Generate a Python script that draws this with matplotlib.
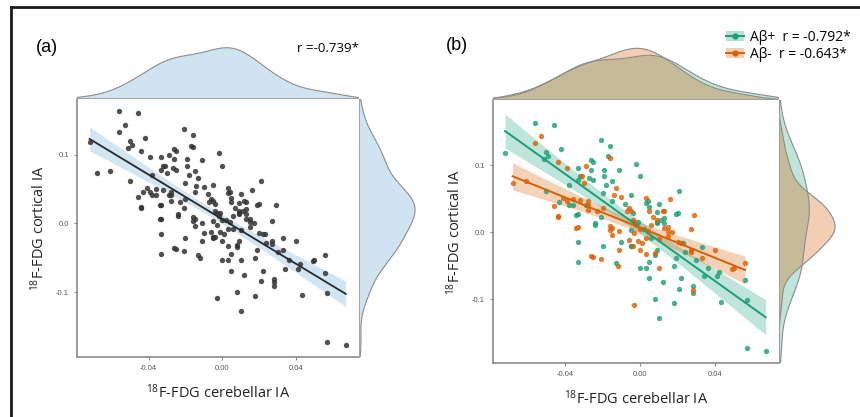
import matplotlib
matplotlib.use("Agg")
import matplotlib.pyplot as plt
from matplotlib.lines import Line2D
from matplotlib.patches import Patch
from matplotlib.legend_handler import HandlerTuple
import numpy as np

plt.rcParams['font.family'] = ['Open Sans', 'DejaVu Sans']
plt.rcParams['mathtext.fontset'] = 'custom'
plt.rcParams['mathtext.rm'] = 'Open Sans'

# cerebellar IA (x) / cortical IA (y)
pos_x = [-0.056, -0.046, -0.072, -0.042, -0.050, -0.049, -0.051, -0.021, -0.016, -0.017,
         -0.026, -0.025, -0.002, 0.000, -0.033, -0.026, -0.019, -0.019, -0.025, -0.027,
         -0.032, -0.018, -0.015, -0.011, 0.021, -0.020, -0.005, 0.004, 0.010, -0.015,
         -0.008, 0.003, 0.005, 0.019, 0.009, 0.013, -0.024, -0.021, -0.001, -0.004,
         0.009, 0.013, -0.038, -0.033, -0.050, -0.043, -0.038, -0.036, -0.033, -0.029,
         -0.034, -0.033, -0.033, -0.024, -0.020, -0.013, -0.010, -0.005, 0.000, 0.003,
         -0.005, 0.005, 0.009, 0.008, 0.010, 0.012, 0.009, 0.011, 0.018, 0.022,
         0.021, 0.028, 0.028, 0.030, 0.019, 0.023, 0.033, 0.036, 0.034, 0.043,
         0.041, 0.042, 0.056, 0.057, 0.057, 0.067, 0.020, 0.024, 0.005, 0.008,
         0.018, -0.005, 0.002, 0.006]
pos_y = [0.163, 0.160, 0.118, 0.124, 0.120, 0.114, 0.109, 0.137, 0.128, 0.113,
         0.108, 0.105, 0.102, 0.084, 0.096, 0.093, 0.093, 0.084, 0.078, 0.080,
         0.083, 0.071, 0.076, 0.092, 0.062, 0.058, 0.056, 0.046, 0.042, 0.046,
         0.042, 0.044, 0.037, 0.027, 0.030, 0.021, 0.013, 0.023, 0.015, 0.028,
         0.015, 0.013, 0.070, 0.077, 0.062, 0.045, 0.041, 0.041, 0.027, 0.041,
         0.026, -0.015, -0.044, 0.011, -0.021, -0.046, -0.014, 0.003, -0.054, -0.054,
         -0.021, -0.069, -0.026, -0.100, -0.128, -0.075, 0.013, 0.018, -0.106, -0.069,
         -0.084, -0.081, -0.091, -0.041, -0.039, -0.016, -0.022, -0.054, -0.066, -0.104,
         -0.066, -0.059, -0.072, -0.101, -0.173, -0.177, 0.028, -0.029, -0.044, -0.034,
         -0.051, -0.020, 0.005, -0.008]

neg_x = [-0.053, -0.056, -0.016, -0.044, -0.039, -0.029, -0.031, -0.068, -0.061, -0.030,
         -0.010, 0.016, -0.006, -0.032, -0.028, -0.046, -0.041, -0.044, -0.033, -0.028,
         -0.036, -0.013, -0.014, 0.003, 0.007, 0.012, -0.005, 0.015, 0.004, -0.016,
         -0.028, -0.044, -0.039, -0.034, -0.023, -0.020, -0.016, -0.015, -0.011, -0.015,
         -0.011, -0.012, -0.025, -0.021, -0.007, -0.004, -0.002, 0.000, -0.003, 0.003,
         -0.001, 0.001, -0.004, -0.006, 0.000, 0.003, 0.005, 0.009, 0.013, 0.015,
         0.015, 0.017, 0.013, 0.010, -0.003, 0.029, 0.027, 0.020, 0.027, 0.033,
         0.040, 0.050, 0.056, 0.028, 0.049, 0.027, 0.022, 0.008, -0.026, -0.003,
         0.006, 0.010]
neg_y = [0.143, 0.133, 0.111, 0.105, 0.096, 0.099, 0.084, 0.073, 0.076, 0.073,
         0.053, 0.049, 0.036, 0.048, 0.046, 0.039, 0.051, 0.024, 0.007, 0.033,
         0.050, 0.066, 0.055, 0.051, 0.023, 0.032, 0.032, 0.002, 0.002, 0.003,
         0.041, 0.023, 0.046, 0.006, 0.031, 0.036, 0.009, 0.006, 0.001, -0.004,
         -0.026, -0.051, -0.037, -0.040, 0.031, 0.018, 0.010, 0.005, -0.002, -0.008,
         -0.013, -0.016, -0.020, -0.012, -0.026, -0.033, 0.031, 0.018, 0.006, 0.007,
         -0.005, 0.000, 0.031, -0.054, -0.109, 0.026, 0.004, -0.014, -0.026, -0.039,
         -0.026, -0.054, -0.046, -0.086, -0.055, -0.030, -0.016, -0.031, -0.036, 0.015,
         0.010, -0.010]

r_all = "r =-0.739*"
labels_b = ["A\u03b2+  r = -0.792*", "A\u03b2-  r = -0.643*"]

GREEN = '#1b9e77'
ORANGE = '#d95f02'
BLUE = '#a6cde6'
XLAB = r'$\mathregular{^{18}}$F-FDG cerebellar IA'
YLAB = r'$\mathregular{^{18}}$F-FDG cortical IA'


def kde(v, grid, adjust=1.15):
    v = np.asarray(v)
    iqr = np.subtract(*np.percentile(v, [75, 25]))
    bw = adjust * 0.9 * min(v.std(ddof=1), iqr / 1.34) * len(v) ** -0.2
    z = (grid[:, None] - v[None, :]) / bw
    return np.exp(-0.5 * z ** 2).sum(axis=1) / (len(v) * bw * np.sqrt(2 * np.pi))


def fit_band(ax, x, y, color, fill, alpha, lw=1.4):
    x = np.asarray(x); y = np.asarray(y)
    b, a = np.polyfit(x, y, 1)
    xs = np.linspace(x.min(), x.max(), 100)
    n = len(x)
    res = y - (a + b * x)
    s = np.sqrt((res ** 2).sum() / (n - 2))
    se = s * np.sqrt(1 / n + (xs - x.mean()) ** 2 / ((x - x.mean()) ** 2).sum())
    yh = a + b * xs
    ax.fill_between(xs, yh - 1.97 * se, yh + 1.97 * se, color=fill, alpha=alpha, lw=0, zorder=2)
    ax.plot(xs, yh, color=color, lw=lw, zorder=4)


def style_main(ax, xlim, ylim):
    ax.set_xlim(*xlim)
    ax.set_ylim(*ylim)
    ax.set_xticks([-0.04, 0.0, 0.04])
    ax.set_xticklabels(['-0.04', '0.00', '0.04'])
    ax.set_yticks([-0.1, 0.0, 0.1])
    ax.set_yticklabels(['-0.1', '0.0', '0.1'])
    for s in ['top', 'right']:
        ax.spines[s].set_visible(False)
    for s in ['left', 'bottom']:
        ax.spines[s].set_color('#8a8a8a')
        ax.spines[s].set_linewidth(1.2)
    ax.tick_params(colors='#8a8a8a', labelcolor='#555555', labelsize=5.5, length=2, width=0.8)
    for t in ax.get_xticklabels() + ax.get_yticklabels():
        t.set_family(['Liberation Sans'])
    ax.set_xlabel(XLAB, fontsize=10.5, color='#222222', labelpad=8)
    ax.set_ylabel(YLAB, fontsize=10.5, color='#222222', labelpad=6)


def top_marg(ax, groups, xlim, frac=0.95):
    grid = np.linspace(xlim[0], xlim[1], 300)
    peak = 0
    for v, fc, a in groups:
        d = kde(v, grid)
        peak = max(peak, d.max())
        ax.fill_between(grid, 0, d, facecolor=fc, alpha=a, edgecolor='none')
        ax.plot(grid, d, color='#8c8c8c', lw=0.8)
    ax.axhline(0, color='#9a9a9a', lw=1.2)
    ax.set_xlim(*xlim)
    ax.set_ylim(0, peak / frac)
    ax.axis('off')


def right_marg(ax, groups, ylim, frac=0.95):
    grid = np.linspace(ylim[0], ylim[1], 300)
    peak = 0
    for v, fc, a in groups:
        d = kde(v, grid)
        peak = max(peak, d.max())
        ax.fill_betweenx(grid, 0, d, facecolor=fc, alpha=a, edgecolor='none')
        ax.plot(d, grid, color='#8c8c8c', lw=0.8)
    ax.axvline(0, color='#9a9a9a', lw=1.2)
    ax.set_ylim(*ylim)
    ax.set_xlim(0, peak / frac)
    ax.axis('off')


W, H = 860, 417
fig = plt.figure(figsize=(8.6, 4.17), dpi=100)


def box(l, t, r, b):
    return [l / W, 1 - b / H, (r - l) / W, (b - t) / H]


all_x = pos_x + neg_x
all_y = pos_y + neg_y

# panel (a)
xlim_a = (-0.079, 0.0742)
ylim_a = (-0.195, 0.181)
ax_a = fig.add_axes(box(76.7, 99, 359, 357.3))
fit_band(ax_a, all_x, all_y, '#2a2a2a', BLUE, 0.5, lw=1.3)
ax_a.scatter(all_x, all_y, s=15, color='#333333', alpha=0.85, lw=0, zorder=3)
style_main(ax_a, xlim_a, ylim_a)
ax_at = fig.add_axes(box(76.7, 45, 359, 99))
top_marg(ax_at, [(all_x, '#cfe3f1', 1.0)], xlim_a)
ax_ar = fig.add_axes(box(359, 99, 418, 357.3))
right_marg(ax_ar, [(all_y, '#cfe3f1', 1.0)], ylim_a)

# panel (b)
xlim_b = (-0.0786, 0.0741)
ylim_b = (-0.1955, 0.197)
ax_b = fig.add_axes(box(492.7, 100, 779, 363.3))
fit_band(ax_b, pos_x, pos_y, GREEN, GREEN, 0.28)
fit_band(ax_b, neg_x, neg_y, ORANGE, ORANGE, 0.28)
ax_b.scatter(pos_x, pos_y, s=15, color=GREEN, alpha=0.8, lw=0, zorder=3)
ax_b.scatter(neg_x, neg_y, s=15, color=ORANGE, alpha=0.8, lw=0, zorder=3)
style_main(ax_b, xlim_b, ylim_b)
ax_bt = fig.add_axes(box(492.7, 45, 779, 100))
top_marg(ax_bt, [(pos_x, GREEN, 0.28), (neg_x, ORANGE, 0.3)], xlim_b, frac=0.94)
ax_br = fig.add_axes(box(779, 100, 838, 363.3))
right_marg(ax_br, [(pos_y, GREEN, 0.28), (neg_y, ORANGE, 0.3)], ylim_b)

# labels
fig.text(36 / W, 1 - 47 / H, '(a)', fontsize=13, family=['Liberation Sans'], va='center', ha='left')
fig.text(446 / W, 1 - 45 / H, '(b)', fontsize=13, family=['Liberation Sans'], va='center', ha='left')
fig.text(297 / W, 1 - 48 / H, r_all, fontsize=9.5, va='center', ha='left')

h1 = (Patch(facecolor=GREEN, alpha=0.3, edgecolor='none'),
      Line2D([], [], color=GREEN, marker='o', markersize=3.5, lw=1.4))
h2 = (Patch(facecolor=ORANGE, alpha=0.3, edgecolor='none'),
      Line2D([], [], color=ORANGE, marker='o', markersize=3.5, lw=1.4))
fig.legend([h1, h2], labels_b, handler_map={tuple: HandlerTuple(ndivide=1, pad=0)},
           loc='upper right', bbox_to_anchor=(856 / W, 1 - 24 / H), frameon=False,
           fontsize=10, handlelength=1.3, handletextpad=0.4, labelspacing=0.15,
           borderaxespad=0)

# outer frame (top and left edges)
fig.add_artist(Line2D([11 / W, 1.0], [1 - 7 / H, 1 - 7 / H], color='#1a1a1a', lw=2.0))
fig.add_artist(Line2D([11 / W, 11 / W], [1 - 7 / H, 0], color='#1a1a1a', lw=2.0))

fig.savefig('out.png', dpi=100)
